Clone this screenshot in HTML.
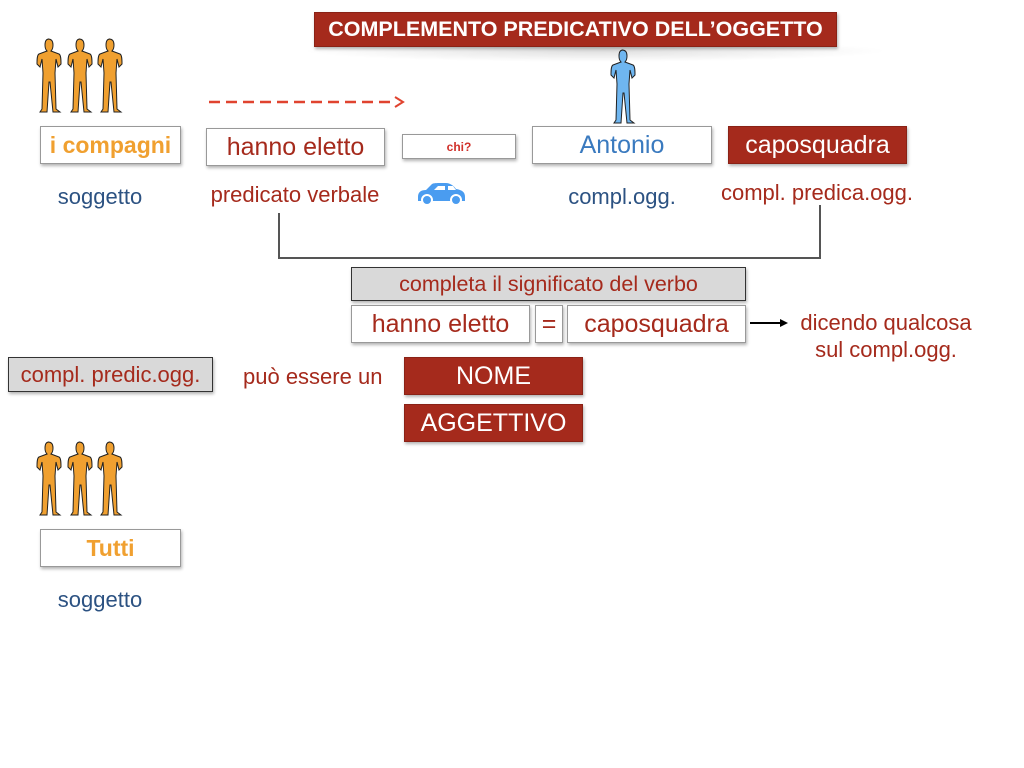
<!DOCTYPE html>
<html><head><meta charset="utf-8"><style>
body{margin:0;width:1024px;height:768px;background:#fff;position:relative;overflow:hidden;font-family:"Liberation Sans",sans-serif}
.a{position:absolute}
.box{position:absolute;box-sizing:border-box;border:1px solid #999;background:#fff;box-shadow:1px 2px 3px rgba(0,0,0,.3);display:flex;align-items:center;justify-content:center;white-space:nowrap}
.red{background:#a52a1c;color:#fff;border-color:#8a2216}
.gray{background:#d9d9d9;border-color:#333}
.t{position:absolute;white-space:nowrap;transform:translateX(-50%);font-size:22px;line-height:26px}
.blue{color:#2c5282}.rc{color:#a52a1c}
</style></head><body>
<div class="a" style="left:300px;top:40px;width:590px;height:22px;background:radial-gradient(ellipse at center,rgba(0,0,0,.12),rgba(0,0,0,0) 70%)"></div>
<div class="box red" style="left:314px;top:12px;width:523px;height:35px;font-weight:bold;font-size:21.5px">COMPLEMENTO PREDICATIVO DELL’OGGETTO</div>

<svg class="a" style="left:0;top:0" width="1024" height="768">
<defs><path id="p" d="M15 0c4 0 5 3 5 6c0 3-1 5-2 6l8 3c2 1 2 6 2 10l-3 3l-2-8l-1 14l1 36l4 3l-7 0l-3-30l-1 0l-2 30l-7 0l2-3l1-36l-1-14l-2 8l-3-3c0-4 0-9 2-10l8-3c-1-1-2-3-2-6c0-3 1-6 4-6z" stroke="#222" stroke-width="1"/></defs>
<g fill="#f0a030"><use href="#p" x="33" y="39"/><use href="#p" x="64" y="39"/><use href="#p" x="94" y="39"/>
<use href="#p" x="33" y="442"/><use href="#p" x="64" y="442"/><use href="#p" x="94" y="442"/></g>
<use href="#p" x="607" y="50" fill="#6fb6f0"/>
<line x1="209" y1="102" x2="396" y2="102" stroke="#e0432f" stroke-width="2.5" stroke-dasharray="11,6"/>
<path d="M395 97l8 5l-8 5" fill="none" stroke="#e0432f" stroke-width="2"/>
<g fill="#4a9cf0"><path d="M418 197c0-5 3-7 8-7l6-6c2-1 4-1 14-1c4 0 8 3 10 6c6 1 9 3 9 8l0 4l-47 0z"/><circle cx="427" cy="200" r="5" stroke="#fff" stroke-width="2"/><circle cx="456" cy="200" r="5" stroke="#fff" stroke-width="2"/></g>
<path d="M434 190l4-4h7v4zM448 186h5l3 4h-8z" fill="#fff"/>
<path d="M279 213V258H820V205" fill="none" stroke="#555" stroke-width="2"/>
<line x1="750" y1="323" x2="782" y2="323" stroke="#000" stroke-width="2"/>
<path d="M780 319l8 4l-8 4z" fill="#000"/>
</svg>

<div class="box" style="left:40px;top:126px;width:141px;height:38px;color:#f0a030;font-weight:bold;font-size:23px">i compagni</div>
<div class="box rc" style="left:206px;top:128px;width:179px;height:38px;font-size:25px">hanno eletto</div>
<div class="box" style="left:402px;top:134px;width:114px;height:25px;color:#d0302a;font-weight:bold;font-size:12px">chi?</div>
<div class="box" style="left:532px;top:126px;width:180px;height:38px;color:#3a7abf;font-size:25px">Antonio</div>
<div class="box red" style="left:728px;top:126px;width:179px;height:38px;font-size:25px">caposquadra</div>

<div class="t blue" style="left:100px;top:184px">soggetto</div>
<div class="t rc" style="left:295px;top:182px">predicato verbale</div>
<div class="t blue" style="left:622px;top:184px">compl.ogg.</div>
<div class="t rc" style="left:817px;top:180px">compl. predica.ogg.</div>

<div class="box gray rc" style="left:351px;top:267px;width:395px;height:34px;font-size:21.5px">completa il significato del verbo</div>
<div class="box rc" style="left:351px;top:305px;width:179px;height:38px;font-size:25px">hanno eletto</div>
<div class="box rc" style="left:535px;top:305px;width:28px;height:38px;font-size:25px">=</div>
<div class="box rc" style="left:567px;top:305px;width:179px;height:38px;font-size:25px">caposquadra</div>
<div class="t rc" style="left:886px;top:310px">dicendo qualcosa</div>
<div class="t rc" style="left:886px;top:337px">sul compl.ogg.</div>

<div class="box gray rc" style="left:8px;top:357px;width:205px;height:35px;font-size:22px">compl. predic.ogg.</div>
<div class="a rc" style="left:243px;top:364px;font-size:22px;line-height:26px">può essere un</div>
<div class="box red" style="left:404px;top:357px;width:179px;height:38px;font-size:25px">NOME</div>
<div class="box red" style="left:404px;top:404px;width:179px;height:38px;font-size:25px">AGGETTIVO</div>

<div class="box" style="left:40px;top:529px;width:141px;height:38px;color:#f0a030;font-weight:bold;font-size:23px">Tutti</div>
<div class="t blue" style="left:100px;top:587px">soggetto</div>
</body></html>
